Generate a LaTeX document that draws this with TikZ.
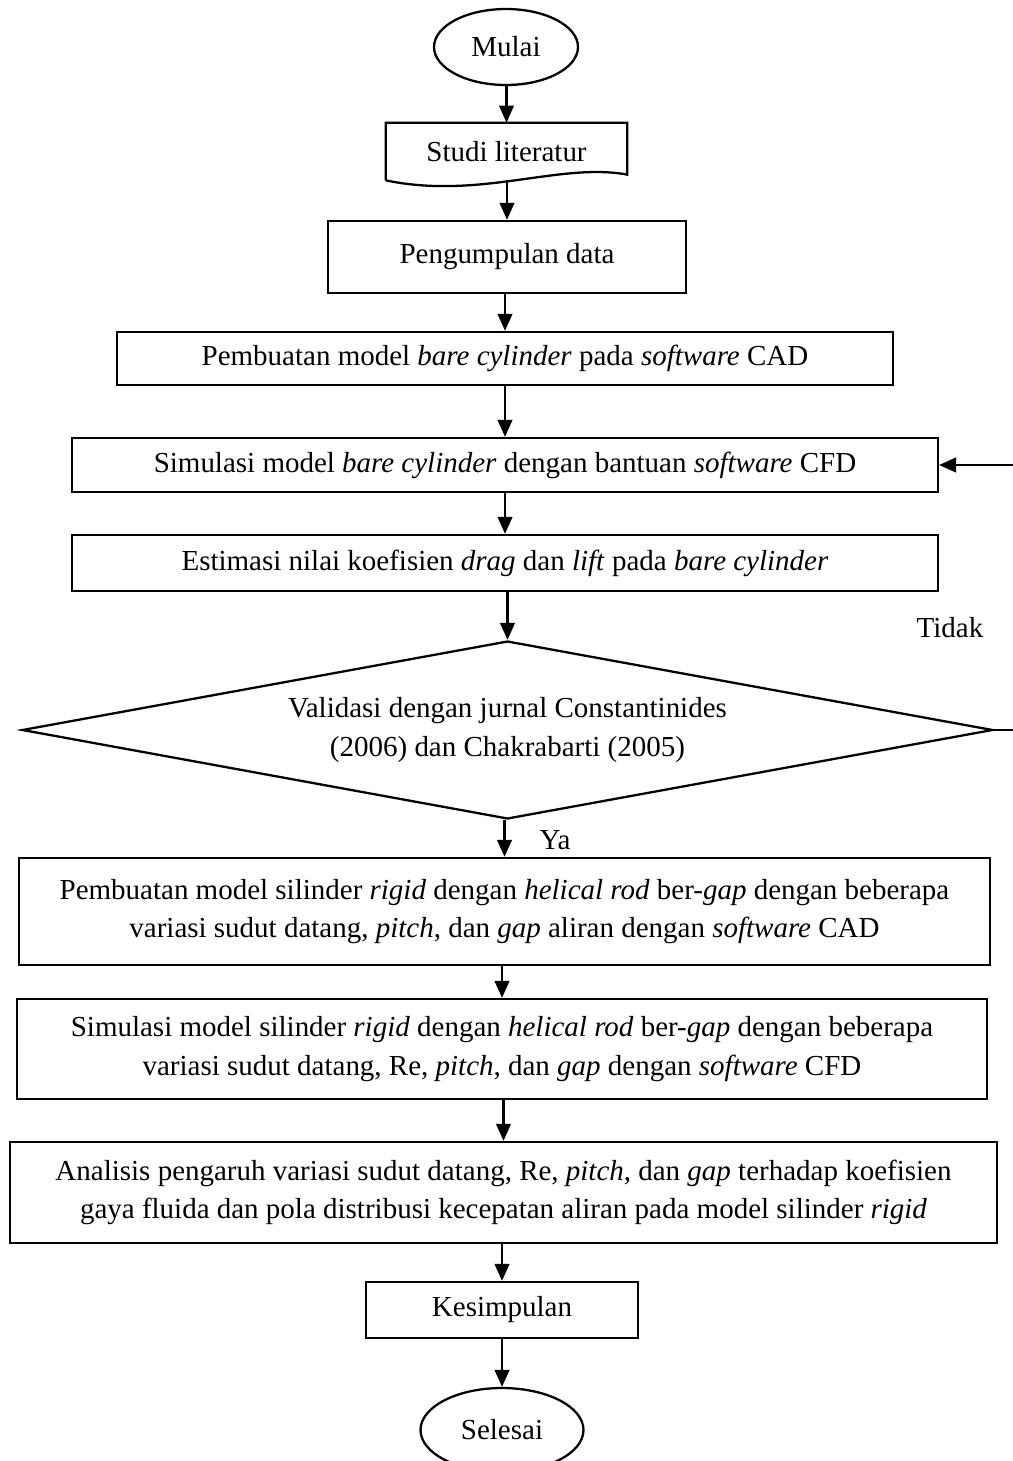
\documentclass[tikz,border=0pt]{standalone}
\usepackage{fontspec}
\setmainfont{Liberation Serif}
\usepackage{tikz}
\usetikzlibrary{arrows.meta,shapes.geometric}

\begin{document}
\begin{tikzpicture}[x=0.02cm,y=-0.02cm,>={Triangle[length=0.34cm,width=0.29cm]},
  every node/.style={font=\fontsize{16.5}{22}\selectfont},
  kotak/.style={draw,line width=1.3pt,inner sep=0pt,align=center},
  panah/.style={->,line width=1.4pt}]
  \useasboundingbox (0,0) rectangle (1013,1461);
  \node[kotak,ellipse,minimum width=2.88cm,minimum height=1.52cm] (Mulai) at (506,47) {Mulai};
  \node[inner sep=0pt,minimum width=4.82cm,minimum height=1.14cm] (Studi) at (506.5,151.5) {Studi literatur};
  \draw[line width=1.3pt] (Studi.south west) -- (Studi.north west) -- (Studi.north east) -- ++(0,52)
    .. controls (560,162) and (480,200) .. (Studi.south west);
  \node[kotak,minimum width=7.16cm,minimum height=1.44cm] (Data) at (507,257) {Pengumpulan data};
  \node[kotak,minimum width=15.52cm,minimum height=1.06cm] (ModelBare) at (505,358.5)
    {Pembuatan model \textit{bare cylinder} pada \textit{software} CAD};
  \node[kotak,minimum width=17.32cm,minimum height=1.08cm] (SimBare) at (505,465)
    {Simulasi model \textit{bare cylinder} dengan bantuan \textit{software} CFD};
  \node[kotak,minimum width=17.32cm,minimum height=1.12cm] (Estimasi) at (505,563)
    {Estimasi nilai koefisien \textit{drag} dan \textit{lift} pada \textit{bare cylinder}};
  \node[kotak,diamond,aspect=5.45,minimum width=19.42cm,minimum height=3.56cm] (Validasi) at (507.5,730)
    {Validasi dengan jurnal Constantinides\\(2006) dan Chakrabarti (2005)};
  \node (Tidak) at (950,628) {Tidak};
  \node (Ya) at (555,840) {Ya};
  \node[kotak,minimum width=19.42cm,minimum height=2.14cm] (ModelRigid) at (504.5,911.5)
    {Pembuatan model silinder \textit{rigid} dengan \textit{helical rod} ber-\textit{gap} dengan beberapa\\
     variasi sudut datang, \textit{pitch}, dan \textit{gap} aliran dengan \textit{software} CAD};
  \node[kotak,minimum width=19.4cm,minimum height=2.0cm] (SimRigid) at (502,1049)
    {Simulasi model silinder \textit{rigid} dengan \textit{helical rod} ber-\textit{gap} dengan beberapa\\
     variasi sudut datang, Re, \textit{pitch}, dan \textit{gap} dengan \textit{software} CFD};
  \node[kotak,minimum width=19.74cm,minimum height=2.02cm] (Analisis) at (503.5,1192.5)
    {Analisis pengaruh variasi sudut datang, Re, \textit{pitch}, dan \textit{gap} terhadap koefisien\\
     gaya fluida dan pola distribusi kecepatan aliran pada model silinder \textit{rigid}};
  \node[kotak,minimum width=5.44cm,minimum height=1.12cm] (Kesimpulan) at (502,1310) {Kesimpulan};
  \node[kotak,ellipse,minimum width=3.26cm,minimum height=1.68cm] (Selesai) at (502,1430) {Selesai};
  % alur utama
  \foreach \a/\b in {Mulai/Studi,Studi/Data,Data/ModelBare,ModelBare/SimBare,SimBare/Estimasi,
      Estimasi/Validasi,Validasi/ModelRigid,ModelRigid/SimRigid,SimRigid/Analisis,
      Analisis/Kesimpulan,Kesimpulan/Selesai}
    \draw[panah] (\b.north |- \a.south) -- (\b.north);
  % kembali jika tidak valid
  \draw[panah] (Validasi.east) -- ++(40,0) |- (SimBare.east);
\end{tikzpicture}
\end{document}
